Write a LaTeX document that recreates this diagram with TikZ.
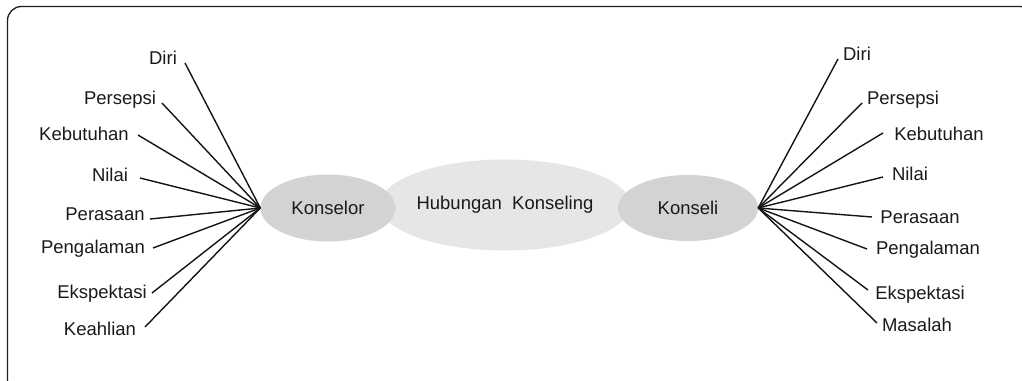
\documentclass[tikz,border=0pt]{standalone}
\usepackage{fontspec}
\setmainfont{Liberation Sans}
\usetikzlibrary{shapes.geometric}
\definecolor{txt}{HTML}{1A1A1A}
\definecolor{ovdark}{HTML}{D3D3D3}
\definecolor{ovlight}{HTML}{E6E6E6}
\begin{document}
\begin{tikzpicture}[x=1pt,y=-1pt,
  lbl/.style={text=txt,font=\fontsize{18.5}{20}\selectfont,inner sep=0pt,anchor=base},
  spoke/.style={line width=1.4pt,draw=black!92},
  oval/.style={ellipse,inner sep=0pt,text=txt,font=\fontsize{18.5}{20}\selectfont}]
\useasboundingbox (0,0) rectangle (1022,380);
\begin{scope}
\clip (0,0) rectangle (1022,380);
\draw[line width=1.3pt,rounded corners=14pt,draw=black!88] (7.5,6.5) rectangle (1034,394);
\end{scope}
% ellipses
\node[oval,fill=ovlight,minimum width=246pt,minimum height=91pt] (hub) at (505,205) {Hubungan\ \ Konseling};
\node[oval,fill=ovdark,minimum width=135pt,minimum height=67pt] (konselor) at (328,208) {Konselor};
\node[oval,fill=ovdark,minimum width=140pt,minimum height=66pt] (konseli) at (688,208) {Konseli};
% left labels
\foreach \n/\t/\x/\y/\ex/\ey in {
  L1/Diri/163/64/185/63,
  L2/Persepsi/120/104/162/103,
  L3/Kebutuhan/84/140/138/135,
  L4/Nilai/110/181/140/178,
  L5/Perasaan/105/220/150/219,
  L6/Pengalaman/93/253/153/248,
  L7/Ekspektasi/102/298/152/293,
  L8/Keahlian/100/335/145/327}{
  \node[lbl] (\n) at (\x,\y) {\t};
  \coordinate (\n e) at (\ex,\ey);
  \draw[spoke] (\n e) -- (konselor.west);
}
% right labels
\foreach \n/\t/\x/\y/\ex/\ey in {
  R1/Diri/857/60/838/59,
  R2/Persepsi/903/104/862/103,
  R3/Kebutuhan/939/140/883/133,
  R4/Nilai/910/180/883/177,
  R5/Perasaan/920/223/872/217,
  R6/Pengalaman/928/254/867/249,
  R7/Ekspektasi/920/299/868/290,
  R8/Masalah/917/331/877/323}{
  \node[lbl] (\n) at (\x,\y) {\t};
  \coordinate (\n e) at (\ex,\ey);
  \draw[spoke] (\n e) -- (konseli.east);
}
\end{tikzpicture}
\end{document}
